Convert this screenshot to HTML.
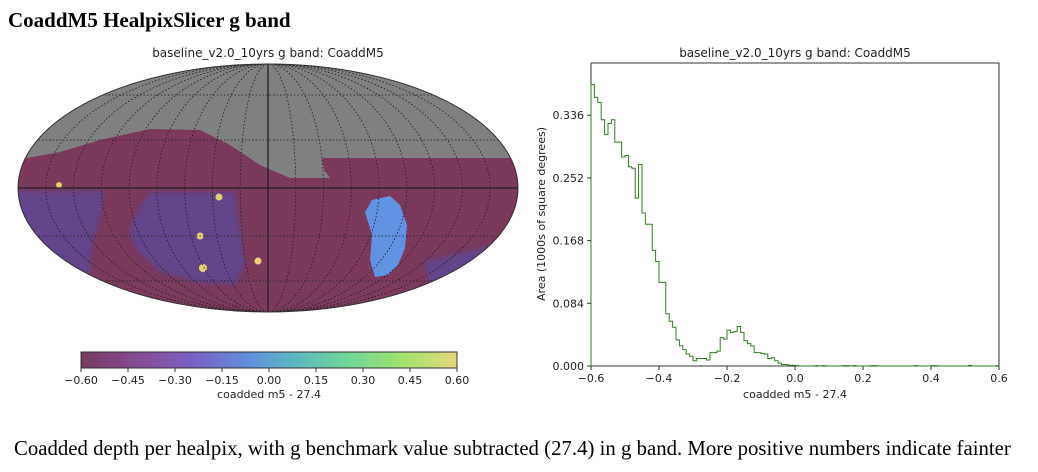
<!DOCTYPE html>
<html><head><meta charset="utf-8">
<style>
body{margin:0;background:#fff;width:1038px;height:472px;overflow:hidden;font-family:"DejaVu Sans","Liberation Sans",sans-serif;}
#title{position:absolute;left:8px;top:8px;font:bold 21px "Liberation Serif",serif;color:#000;}
#caption{position:absolute;left:14px;top:437px;font:20.8px "Liberation Serif",serif;color:#000;white-space:nowrap;}
svg{position:absolute;left:0;top:0;}
</style></head><body>
<div id="title">CoaddM5 HealpixSlicer g band</div>
<svg width="1038" height="472">
<defs>
<clipPath id="sky"><ellipse cx="268" cy="188" rx="250" ry="124"/></clipPath>
<linearGradient id="cmap" x1="0" x2="1" y1="0" y2="0">
<stop offset="0" stop-color="#7b3a5f"/><stop offset="0.15" stop-color="#854a93"/>
<stop offset="0.3" stop-color="#7a62c6"/><stop offset="0.45" stop-color="#5f90dc"/>
<stop offset="0.55" stop-color="#5db3c6"/><stop offset="0.7" stop-color="#6cd49a"/>
<stop offset="0.85" stop-color="#9ee46e"/><stop offset="1" stop-color="#e6d77a"/>
</linearGradient>
<filter id="blur"><feGaussianBlur stdDeviation="2.5"/></filter>
</defs>
<text x="268" y="57" text-anchor="middle" font-size="12" fill="#222">baseline_v2.0_10yrs g band: CoaddM5</text>
<g clip-path="url(#sky)">
<rect x="0" y="50" width="540" height="280" fill="#7b3a5c"/>
<path d="M10,50 L530,50 L530,158 L322,158 L324,170 L330,178 L290,178 L260,165 L230,145 L200,130 L150,129 L100,140 L60,152 L27,158 L10,160 Z" fill="#808080"/>
<g filter="url(#blur)" fill="#60468f" opacity="0.9">
<path d="M15,191 L105,191 L100,220 L92,245 L90,275 L80,295 L15,290 Z"/>
<path d="M150,192 L235,192 L240,230 L245,265 L235,285 L195,282 L160,272 L138,252 L128,232 L138,210 Z"/>
<path d="M425,262 L470,250 L520,240 L520,290 L460,300 L428,282 Z"/>
</g>
<path d="M372,200 L390,196 L400,205 L407,225 L405,248 L398,265 L388,275 L375,277 L370,260 L372,235 L365,212 Z" fill="#5f92e0"/>
<g fill="#e6d16e">
<circle cx="59" cy="185" r="3"/><circle cx="219" cy="197" r="3.5"/><circle cx="200" cy="236" r="3.5"/><circle cx="203" cy="268" r="4"/><circle cx="258" cy="261" r="3.5"/>
</g>
<g id="grat" fill="none" stroke="#222" stroke-width="0.8" stroke-dasharray="1.5,2"></g>
<line x1="18" y1="188" x2="518" y2="188" stroke="#222" stroke-width="1.3"/>
<line x1="268" y1="64" x2="268" y2="312" stroke="#222" stroke-width="1.3"/>
</g>
<ellipse cx="268" cy="188" rx="250" ry="124" fill="none" stroke="#333" stroke-width="1"/>
<rect x="81" y="352" width="376" height="16" fill="url(#cmap)" stroke="#333" stroke-width="1"/>
<g id="cbticks" font-size="11" fill="#222" text-anchor="middle"></g>
<text x="269" y="398" text-anchor="middle" font-size="11" fill="#222">coadded m5 - 27.4</text>

<text x="795" y="57" text-anchor="middle" font-size="12" fill="#222">baseline_v2.0_10yrs g band: CoaddM5</text>
<rect x="591" y="63" width="408" height="303" fill="none" stroke="#333" stroke-width="1"/>
<path id="hist" fill="none" stroke="#2e7d1e" stroke-width="1"/>
<g id="xt" font-size="11" fill="#222" text-anchor="middle"></g>
<g id="yt" font-size="11" fill="#222" text-anchor="end"></g>
<text x="795" y="398" text-anchor="middle" font-size="11" fill="#222">coadded m5 - 27.4</text>
<text transform="translate(545,214) rotate(-90)" text-anchor="middle" font-size="11" fill="#222">Area (1000s of square degrees)</text>
</svg>
<div id="caption">Coadded depth per healpix, with g benchmark value subtracted (27.4) in g band. More positive numbers indicate fainter</div>
<script>
const binStart = -0.6;
const binWidth = 0.01;
const areaValues = [0.377,0.36,0.353,0.33,0.31,0.325,0.33,0.30,0.30,0.28,0.282,0.267,0.265,0.225,0.27,0.205,0.19,0.19,0.155,0.14,0.112,0.112,0.07,0.06,0.052,0.035,0.027,0.022,0.016,0.013,0.007,0.01,0.01,0.01,0.008,0.018,0.018,0.02,0.038,0.036,0.048,0.045,0.046,0.053,0.045,0.034,0.03,0.027,0.018,0.018,0.017,0.016,0.01,0.011,0.007,0.004,0.002,0.002,0.001,0.001,0.0005,0,0,0,0,0,0.0005,0,0.0005,0,0,0,0,0,0.0005,0.0005,0,0.0005,0,0,0,0,0.0005,0.0005,0,0,0,0,0,0,0,0,0,0,0,0.0005,0,0,0,0,0.0005,0.0005,0,0,0,0,0,0,0,0,0,0.0008,0,0,0,0,0,0,0,0.0005];
const xTickLabels = ["\u22120.6","\u22120.4","\u22120.2","0.0","0.2","0.4","0.6"];
const xTickValues = [-0.6,-0.4,-0.2,0,0.2,0.4,0.6];
const yTickValues = [0,0.084,0.168,0.252,0.336];
const yTickLabels = ["0.000","0.084","0.168","0.252","0.336"];
const cbTickValues = [-0.6,-0.45,-0.3,-0.15,0,0.15,0.3,0.45,0.6];
const cbTickLabels = ["\u22120.60","\u22120.45","\u22120.30","\u22120.15","0.00","0.15","0.30","0.45","0.60"];
const NS="http://www.w3.org/2000/svg";
const X=v=>591+(v+0.6)/1.2*408;
const Y=v=>366-v/0.406*303;
const CB=v=>81+(v+0.6)/1.2*376;
let d="M"+X(binStart)+","+Y(0);
areaValues.forEach((v,i)=>{const a=X(binStart+i*binWidth),b=X(binStart+(i+1)*binWidth);d+=" L"+a+","+Y(v)+" L"+b+","+Y(v);});
d+=" L"+X(binStart+areaValues.length*binWidth)+","+Y(0);
document.getElementById('hist').setAttribute('d',d);
function mk(tag,attrs,parent,txt){const e=document.createElementNS(NS,tag);for(const k in attrs)e.setAttribute(k,attrs[k]);if(txt!==undefined)e.textContent=txt;parent.appendChild(e);return e;}
const xt=document.getElementById('xt'),yt=document.getElementById('yt'),cb=document.getElementById('cbticks');
xTickValues.forEach((v,i)=>{mk('line',{x1:X(v),x2:X(v),y1:366,y2:370,stroke:'#333'},xt);const t=mk('text',{x:X(v),y:382},xt,xTickLabels[i]);

});
yTickValues.forEach((v,i)=>{mk('line',{x1:587,x2:591,y1:Y(v),y2:Y(v),stroke:'#333'},yt);const t=mk('text',{x:584,y:Y(v)+4},yt,yTickLabels[i]);

});
cbTickValues.forEach((v,i)=>{mk('line',{x1:CB(v),x2:CB(v),y1:368,y2:372,stroke:'#333'},cb);const t=mk('text',{x:CB(v),y:384},cb,cbTickLabels[i]);

});
const g=document.getElementById('grat');
for(let k=1;k<9;k++){mk('ellipse',{cx:268,cy:188,rx:250*k/9,ry:124},g);}
[48,93].forEach(o=>{mk('line',{x1:0,x2:540,y1:188-o,y2:188-o},g);mk('line',{x1:0,x2:540,y1:188+o,y2:188+o},g);});
</script>
</body></html>
